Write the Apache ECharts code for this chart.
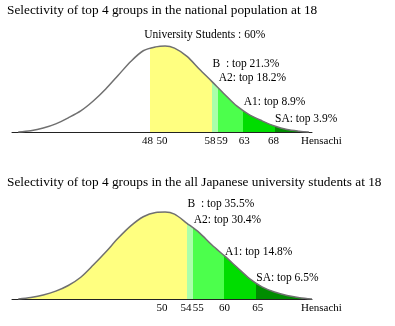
<!DOCTYPE html>
<html><head><meta charset="utf-8">
<script src="https://cdn.jsdelivr.net/npm/echarts@6/dist/echarts.min.js"></script>
<style>html,body{margin:0;padding:0;background:#fff}#c{width:395px;height:326px}</style>
</head><body><div id="c"></div>
<script>
// ---------- data ----------
const titleTop = 'Selectivity of top 4 groups in the national population at 18';
const titleBottom = 'Selectivity of top 4 groups in the all Japanese university students at 18';
const noteTop = 'University Students : 60%';
const axisName = 'Hensachi';

// curve heights (relative to the peak) against Hensachi
const topCurveX = [27, 29, 31, 33, 35, 37, 39, 41, 43, 45, 47, 49, 50.5, 52, 54, 56, 58, 60, 62, 64, 66, 68, 70, 72, 73.5];
const topCurveY = [0, 0.015, 0.046, 0.095, 0.165, 0.245, 0.36, 0.5, 0.66, 0.82, 0.945, 0.99, 1.0, 0.975, 0.88, 0.73, 0.586, 0.44, 0.3, 0.2, 0.13, 0.07, 0.03, 0.01, 0];
const bottomCurveX = [27, 29, 31, 33, 35, 37, 39, 41, 43, 45, 47, 49, 50.5, 52, 54, 56, 58, 60, 62, 64, 66, 68, 70, 72, 74];
const bottomCurveY = [0, 0.018, 0.046, 0.09, 0.155, 0.25, 0.39, 0.54, 0.7, 0.84, 0.945, 0.995, 1.0, 0.975, 0.87, 0.76, 0.62, 0.495, 0.365, 0.235, 0.14, 0.08, 0.04, 0.015, 0];

// group boundaries (Hensachi)
const topBounds = [48, 58, 59, 63, 68];
const bottomBounds = [54, 55, 60, 65];

// tick labels
const topTicks = [48, 50, 58, 59, 63, 68];
const bottomTicks = [50, 54, 55, 60, 65];

// group annotations
const topGroupLabels = ['B  : top 21.3%', 'A2: top 18.2%', 'A1: top 8.9%', 'SA: top 3.9%'];
const topGroupAt = [58, 59, 63, 68];
const bottomGroupLabels = ['B  : top 35.5%', 'A2: top 30.4%', 'A1: top 14.8%', 'SA: top 6.5%'];
const bottomGroupAt = [54, 55, 60, 65];

// ---------- styling / layout ----------
const F = '"Liberation Serif","Times New Roman",serif';
const topColors = ['#ffffff', '#ffff80', '#aaffaa', '#4cff4c', '#00dd00', '#008c00'];
const bottomColors = ['#ffff80', '#aaffaa', '#4cff4c', '#00dd00', '#008c00'];
const topLabelLevels = [0.794, 0.631, 0.347, 0.155];
const bottomLabelLevels = [1.095, 0.911, 0.538, 0.247];
const topShift = {48: -2, 58: -2, 59: 4, 63: 1, 68: -1};
const bottomShift = {54: -1, 55: 5, 65: 2};
const YMAX = 1.3;

function pieces(bounds, colors) {
  const out = [];
  for (let i = 0; i <= bounds.length; i++) {
    const p = {color: colors[i]};
    if (i > 0) p.gte = bounds[i - 1];
    if (i < bounds.length) p.lt = bounds[i];
    out.push(p);
  }
  return out;
}

function xAxisFor(gi, ticks, shift) {
  const rich = {};
  ticks.forEach((t, i) => {
    const s = shift[t] || 0;
    rich['t' + i] = {fontSize: 11, fontFamily: F, color: '#000',
      padding: s > 0 ? [0, 0, 0, 2 * s] : [0, -2 * s, 0, 0]};
  });
  return {
    type: 'value', gridIndex: gi, min: 26, max: 74,
    axisLine: {show: true, lineStyle: {color: '#222', width: 1}},
    axisTick: {show: false}, splitLine: {show: false},
    axisLabel: {
      customValues: ticks, hideOverlap: false, margin: 3.5,
      fontSize: 11, fontFamily: F, color: '#000',
      formatter: v => { const i = ticks.indexOf(v); return i < 0 ? '' : '{t' + i + '|' + v + '}'; },
      rich
    },
    name: axisName, nameLocation: 'end', nameGap: -11, nameMoveOverlap: false,
    nameTextStyle: {fontSize: 11, fontFamily: F, color: '#000', align: 'left', verticalAlign: 'top', lineHeight: 11, padding: [4, 0, 0, 0]}
  };
}

function curveSeries(gi, xs, ys, labels, at, levels) {
  return {
    type: 'line', xAxisIndex: gi, yAxisIndex: gi,
    data: xs.map((x, i) => [x, ys[i]]),
    symbol: 'none', showSymbol: false, smooth: 0.3, clip: false, silent: true,
    lineStyle: {color: '#707070', width: 1.5},
    areaStyle: {opacity: 1},
    markPoint: {
      symbol: 'circle', symbolSize: 1, silent: true,
      itemStyle: {color: 'rgba(0,0,0,0)'},
      label: {show: true, position: 'right', distance: 0, formatter: '{b}', color: '#000', fontSize: 11.5, fontFamily: F},
      data: labels.map((t, i) => ({name: t, coord: [at[i], levels[i]]}))
    }
  };
}

const chart = echarts.init(document.getElementById('c'), null, {renderer: 'canvas'});
chart.setOption({
  animation: false,
  backgroundColor: '#fff',
  grid: [
    {left: 12, width: 300, top: 132 - YMAX * 86, height: YMAX * 86},
    {left: 12, width: 300, top: 299 - YMAX * 87, height: YMAX * 87}
  ],
  xAxis: [xAxisFor(0, topTicks, topShift), xAxisFor(1, bottomTicks, bottomShift)],
  yAxis: [
    {type: 'value', gridIndex: 0, min: 0, max: YMAX, show: false},
    {type: 'value', gridIndex: 1, min: 0, max: YMAX, show: false}
  ],
  visualMap: [
    {type: 'piecewise', show: false, seriesIndex: 0, dimension: 0, pieces: pieces(topBounds, topColors)},
    {type: 'piecewise', show: false, seriesIndex: 1, dimension: 0, pieces: pieces(bottomBounds, bottomColors)}
  ],
  series: [
    curveSeries(0, topCurveX, topCurveY, topGroupLabels, topGroupAt, topLabelLevels),
    curveSeries(1, bottomCurveX, bottomCurveY, bottomGroupLabels, bottomGroupAt, bottomLabelLevels)
  ],
  graphic: [
    {type: 'text', x: 7, y: 11, style: {text: titleTop, font: '13.3px ' + F, fill: '#000', verticalAlign: 'middle'}},
    {type: 'text', x: 7, y: 182.7, style: {text: titleBottom, font: '13.3px ' + F, fill: '#000', verticalAlign: 'middle'}},
    {type: 'text', x: 204.7, y: 34.9, style: {text: noteTop, font: '11.5px ' + F, fill: '#000', align: 'center', verticalAlign: 'middle'}}
  ]
});
</script>
</body></html>
